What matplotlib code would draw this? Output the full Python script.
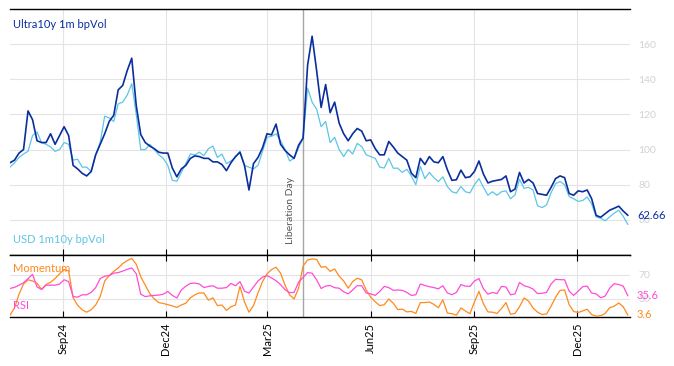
import matplotlib
matplotlib.use('Agg')
import matplotlib.pyplot as plt
import matplotlib.dates as mdates
import pandas as pd

# ---------------- data ----------------
start_date = '2024-07-16'
step = '4D'

ultra = [92.5, 94, 98, 100, 122, 117, 105, 104, 104, 109, 103, 108, 113, 108, 91, 89, 86.5, 85, 87.5, 97,
         103, 109, 116, 119.5, 134, 136.5, 145, 152, 125, 108.5, 104, 102, 100.5, 98.5, 98, 98, 89.5, 84.5, 89, 91,
         95, 96.4, 96, 95, 95, 93, 93, 91.5, 88, 92.5, 96, 98.5, 91, 77, 92, 95.5, 101, 109, 108.4, 114.5,
         103, 99.5, 97, 95, 102.5, 106.5, 148, 164.5, 145, 124, 137, 121, 127, 115, 109, 105, 109, 112, 110.5, 105,
         105.5, 100.5, 97, 97, 104.6, 101.5, 98, 96, 94, 86.6, 84, 95, 91.5, 96, 93, 92.5, 96, 88.5, 82.5, 82.8,
         88.3, 84, 84.5, 87.5, 93.5, 86, 81, 82, 82.5, 83, 85, 76, 77.5, 87, 81, 83, 81, 75, 74.5, 74,
         78.5, 83.5, 85, 84, 75, 74, 76.5, 76, 77, 72, 62.5, 61.5, 63.5, 65.5, 66.6, 67.8, 65, 62.66]

usd = [90, 92.5, 95.5, 97.5, 99, 108, 110, 104, 103, 101.5, 99, 100, 104, 103, 94, 94.5, 90, 90, 87.5, 97,
       104, 119, 118, 116, 126, 127, 131, 137.5, 120, 100, 100, 103, 100, 97, 95, 91, 82.5, 82, 87, 92,
       97.5, 97, 98.5, 96.5, 100.5, 102, 95.5, 97.5, 92, 93.5, 95.5, 99, 91, 90, 89, 91, 99, 107, 107.5, 109,
       105, 100, 93.5, 95, 101, 106.5, 135, 127, 123, 113, 116, 104, 107, 100, 96, 100, 97.5, 103.5, 101.7, 97,
       96, 95, 90, 89.5, 95, 89.4, 89.4, 87, 88.8, 85, 80, 90.4, 83.5, 87, 84, 81.8, 84.5, 79, 76, 75.2,
       79, 76, 75.3, 80, 83.5, 78.5, 74, 76, 74, 76, 76.5, 72, 74.2, 83, 78, 78.5, 77, 68, 67, 68.5,
       75.5, 80.6, 81.8, 80, 73.3, 72, 70.5, 71, 73, 69, 61.7, 60.9, 59.5, 61.7, 63.8, 65.5, 62, 57.5]

momentum = [3, 15, 38, 55, 62, 60, 56, 46, 54, 58, 64, 72, 79, 77, 32, 19.5, 12, 8, 12, 20,
            34, 60, 69, 76, 81.6, 89, 94, 97.5, 88, 67, 53, 39, 30, 24, 22.5, 20.5, 18.5, 16, 20, 23,
            32, 37, 40, 40, 28, 32, 19, 20, 11, 17, 20, 51, 25, 8, 19, 40, 59, 72, 79, 83,
            73, 53, 37, 30, 48, 85, 95, 96.7, 96, 83, 84, 76, 80, 68, 60, 48, 59, 64.5, 62, 45,
            33, 25.5, 19, 20.5, 30, 23, 12.5, 13, 8.5, 9.4, 6, 24, 24, 25, 21, 15.5, 28.5, 6.5, 5.5, 3,
            15, 10, 5.5, 25, 42.8, 22, 8.5, 8, 6, 14, 24, 4.5, 6, 17, 31.7, 26.5, 15, 8, 4.2, 5,
            18, 33, 44.4, 45, 20.6, 9.2, 7.5, 10, 13, 3.9, 1.5, 2.2, 6, 15.5, 18, 23.5, 17, 3.6]

rsi = [47.5, 49.5, 53, 57, 64, 71, 50, 46, 53, 53, 53, 55, 62, 59, 34, 33, 37, 37, 41, 49,
       64, 68, 69, 73, 74, 76.5, 79.5, 81.7, 72, 38, 34, 35.3, 36, 36.5, 38, 42.5, 36, 31.7, 45, 51.5,
       56, 56.5, 55, 49, 51, 52, 48, 48, 49, 56, 52, 59, 43, 40, 50, 60, 66.5, 68.9, 65, 60.5,
       54, 45.5, 40.5, 41, 58, 66, 74, 73, 62, 47.5, 51.5, 52.5, 48.8, 48, 42, 38.5, 45, 52.2, 52, 40,
       38.5, 36, 42.5, 51, 49, 44.5, 45, 44.4, 41, 36, 37, 55, 52.5, 50.5, 49, 47, 52, 40, 37.2, 41,
       54, 51.5, 51, 60, 64, 47, 38, 41, 39, 51, 50, 37, 38.5, 57.5, 52.2, 50, 46.5, 39, 39.5, 41,
       55, 62.8, 62.2, 62, 43, 36, 43, 50.5, 51.5, 40, 38.5, 32, 35, 48, 55.6, 54, 51.5, 35.6]

tick_dates = ['2024-09-01', '2024-12-01', '2025-03-01', '2025-06-01', '2025-09-01', '2025-12-01']
tick_labels = ['Sep24', 'Dec24', 'Mar25', 'Jun25', 'Sep25', 'Dec25']
top_yticks = [60, 80, 100, 120, 140, 160]
bot_yticks = [30, 70]
event_date = '2025-04-02'
event_label = 'Liberation Day'
x_range = ('2024-07-16', '2026-01-17')

# ---------------- style ----------------
DARK = '#0a2e9e'
LIGHT = '#5cc6e6'
ORANGE = '#ff8a1c'
PINK = '#ff4cd6'
GRID = '#e4e4e4'
TICKGRAY = '#d2d2d2'

plt.rcParams['font.family'] = ['Lato', 'DejaVu Sans']

dates = pd.date_range(start_date, periods=len(ultra), freq=step)
ev = pd.Timestamp(event_date)
ev_num = mdates.date2num(ev)

fig = plt.figure(figsize=(6.74, 3.66), dpi=100)
ax1 = fig.add_axes([10 / 674, 1 - 255 / 366, 620 / 674, 246 / 366])
ax2 = fig.add_axes([10 / 674, 1 - 317 / 366, 620 / 674, 62 / 366], sharex=ax1)

for ax in (ax1, ax2):
    ax.set_axisbelow(True)
    ax.grid(True, color=GRID, lw=0.8)
    ax.spines['left'].set_visible(False)
    ax.spines['right'].set_visible(False)
    ax.spines['top'].set_linewidth(1.0)
    ax.spines['bottom'].set_linewidth(1.0)
    ax.yaxis.tick_right()
    ax.tick_params(axis='y', length=0, labelcolor=TICKGRAY, labelsize=7.5, pad=6)
    ax.axvline(ev_num, color='#a6a6a6', lw=1.0, zorder=1)

# top panel
ax1.plot(dates, usd, color=LIGHT, lw=0.9, zorder=3)
ax1.plot(dates, ultra, color=DARK, lw=1.2, zorder=4)
ax1.set_ylim(40, 180)
ax1.set_yticks(top_yticks)
ax1.set_xlim(mdates.date2num(pd.Timestamp(x_range[0])), mdates.date2num(pd.Timestamp(x_range[1])))
ax1.tick_params(axis='x', direction='in', length=4, bottom=True, top=False, labelbottom=False)

ax1.text(0.005, 0.935, 'Ultra10y 1m bpVol', transform=ax1.transAxes, color=DARK,
         fontsize=8, ha='left', va='center')
ax1.text(0.005, 0.065, 'USD 1m10y bpVol', transform=ax1.transAxes, color=LIGHT,
         fontsize=8, ha='left', va='center')
ax1.annotate(f'{ultra[-1]:.2f}', xy=(1, ultra[-1]), xycoords=ax1.get_yaxis_transform(),
             xytext=(5, 0), textcoords='offset points', ha='left', va='center',
             color=DARK, fontsize=8)
ax1.annotate(event_label, xy=(ev_num, 0.045), xycoords=ax1.get_xaxis_transform(),
             xytext=(-5.5, 0), textcoords='offset points', rotation=90,
             ha='right', va='bottom', color='#595959', fontsize=7.5)

# bottom panel
ax2.plot(dates, momentum, color=ORANGE, lw=0.9, zorder=3)
ax2.plot(dates, rsi, color=PINK, lw=0.9, zorder=4)
ax2.set_ylim(0, 103.3)
ax2.set_yticks(bot_yticks)
ax2.set_xticks(mdates.date2num(pd.to_datetime(tick_dates)))
ax2.set_xticklabels(tick_labels, rotation=90, fontsize=8)
ax2.tick_params(axis='x', direction='in', length=4, bottom=True, top=True, pad=4, labelcolor='black')

ax2.text(0.005, 0.79, 'Momentum', transform=ax2.transAxes, color=ORANGE,
         fontsize=8, ha='left', va='center')
ax2.text(0.005, 0.18, 'RSI', transform=ax2.transAxes, color=PINK,
         fontsize=8, ha='left', va='center')
ax2.annotate(f'{rsi[-1]:.1f}', xy=(1, rsi[-1]), xycoords=ax2.get_yaxis_transform(),
             xytext=(5, 0), textcoords='offset points', ha='left', va='center',
             color=PINK, fontsize=8)
ax2.annotate(f'{momentum[-1]:.1f}', xy=(1, momentum[-1]), xycoords=ax2.get_yaxis_transform(),
             xytext=(5, 0), textcoords='offset points', ha='left', va='center',
             color=ORANGE, fontsize=8)

fig.savefig('out.png', dpi=100)
